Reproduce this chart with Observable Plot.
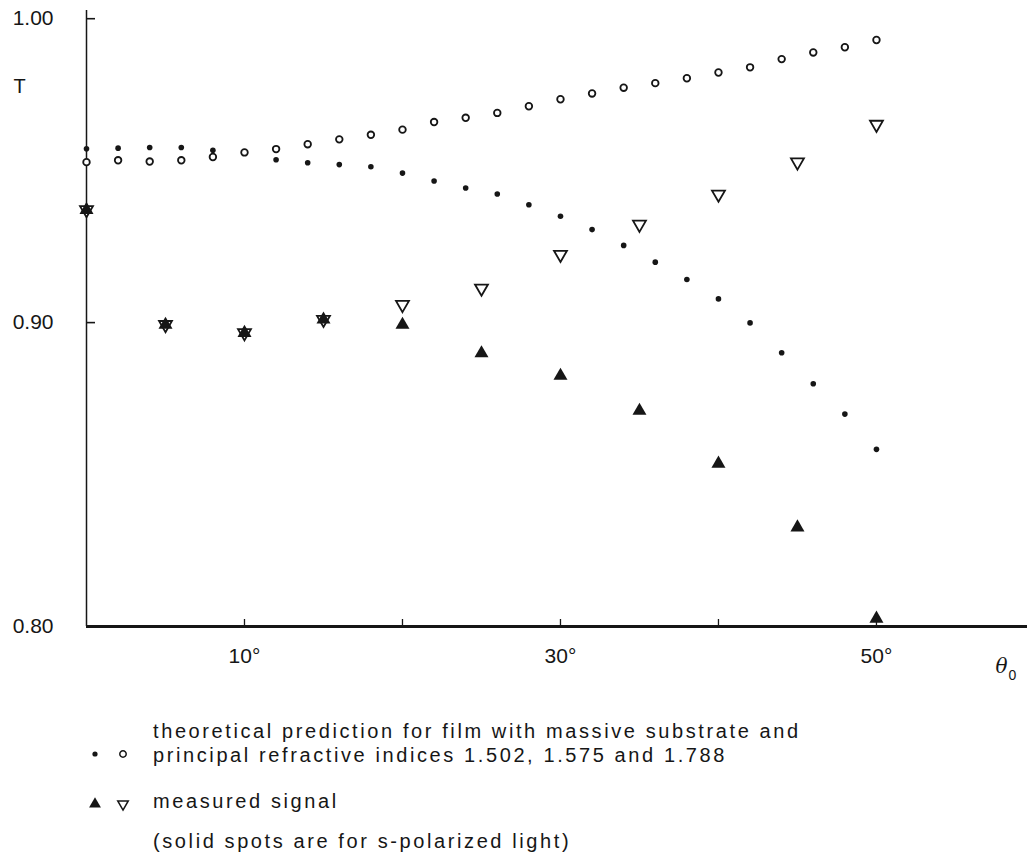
<!DOCTYPE html>
<html>
<head>
<meta charset="utf-8">
<script src="https://cdn.jsdelivr.net/npm/d3@7"></script>
<script src="https://cdn.jsdelivr.net/npm/@observablehq/plot@0.6"></script>
<style>
  html, body { margin: 0; padding: 0; background: #fff; }
  body { width: 1027px; height: 857px; overflow: hidden; font-family: "Liberation Sans", Arial, Helvetica, sans-serif; }
  #chart svg, #legend svg { display: block; }
</style>
</head>
<body>
<div id="chart"></div>
<div id="legend"></div>
<script>
// ---- data ----
const thetaTheory = [0,2,4,6,8,10,12,14,16,18,20,22,24,26,28,30,32,34,36,38,40,42,44,46,48,50];
// theoretical prediction, s-polarized (solid dots)
const theoryS = [0.9572,0.9574,0.9576,0.9576,0.9567,0.9561,0.9536,0.9526,0.9520,0.9513,0.9492,0.9466,0.9443,0.9423,0.9388,0.9350,0.9306,0.9254,0.9199,0.9142,0.9078,0.8999,0.8901,0.8799,0.8699,0.8583];
// theoretical prediction, p-polarized (open circles)
const theoryP = [0.9528,0.9534,0.9530,0.9534,0.9545,0.9560,0.9571,0.9587,0.9603,0.9618,0.9635,0.9660,0.9674,0.9690,0.9712,0.9735,0.9754,0.9773,0.9788,0.9804,0.9823,0.9840,0.9867,0.9889,0.9906,0.9930];
const thetaMeasured = [0,5,10,15,20,25,30,35,40,45,50];
// measured signal, s-polarized (solid triangles)
const measuredS = [0.9371,0.8993,0.8966,0.9010,0.8993,0.8899,0.8825,0.8710,0.8536,0.8326,0.8026];
// measured signal, p-polarized (open inverted triangles)
const measuredP = [0.9371,0.8993,0.8966,0.9010,0.9059,0.9113,0.9224,0.9323,0.9422,0.9528,0.9652];

const xTicks = [10,20,30,40,50];
const xTickLabels = [10,30,50];
const yTicks = [0.80,0.90,1.00];
const yInnerTicks = [0.90,1.00];

const legendLines = [
  "theoretical prediction for film with massive substrate and",
  "principal refractive indices 1.502, 1.575 and 1.788",
  "measured signal",
  "(solid spots are for s-polarized light)"
];

// ---- tables ----
const theory = thetaTheory.map((t, i) => ({theta: t, s: theoryS[i], p: theoryP[i]}));
const measured = thetaMeasured.map((t, i) => ({theta: t, s: measuredS[i], p: measuredP[i]}));

// inverted triangle symbol (same geometry as d3.symbolTriangle, flipped)
const sqrt3 = Math.sqrt(3);
const triangleDown = {
  draw(context, size) {
    const y = -Math.sqrt(size / (sqrt3 * 3));
    context.moveTo(0, -y * 2);
    context.lineTo(-sqrt3 * y, y);
    context.lineTo(sqrt3 * y, y);
    context.closePath();
  }
};

const ink = "#161616";
const font = "'Liberation Sans', Arial, Helvetica, sans-serif";

const chart = Plot.plot({
  width: 1027,
  height: 700,
  marginLeft: 86,
  marginRight: 0,
  marginTop: 10,
  marginBottom: 74,
  style: {fontFamily: font, color: ink, background: "#fff", overflow: "visible"},
  x: {domain: [0, 59.56], label: null},
  y: {domain: [0.80, 1.0027], label: null},
  marks: [
    // axis lines
    Plot.ruleX([0], {stroke: ink, strokeWidth: 1.5}),
    Plot.ruleY([0.80], {stroke: ink, strokeWidth: 2.8}),
    // inward ticks
    Plot.axisX({ticks: xTicks, tickSize: -7, tickFormat: () => "", stroke: ink, strokeWidth: 1.3, label: null}),
    Plot.axisY({ticks: yInnerTicks, tickSize: -9, tickFormat: () => "", stroke: ink, strokeWidth: 1.6, label: null}),
    // tick labels
    Plot.axisX({ticks: xTickLabels, tickSize: 0, tickPadding: 22, tickFormat: d => `${d}°`, fontSize: 21, fill: ink, label: null}),
    Plot.axisY({ticks: yTicks, tickSize: 0, tickPadding: 33, tickFormat: d3.format(".2f"), fontSize: 21, fill: ink, label: null}),
    // axis titles
    Plot.text(["T"], {frameAnchor: "top-left", dx: -73, dy: 68, textAnchor: "start", fontSize: 20, fill: ink}),
    Plot.text(["θ"], {frameAnchor: "bottom-right", dx: -26, dy: 46, textAnchor: "middle", fontSize: 20, fontStyle: "italic", fontFamily: "'DejaVu Serif', serif", fill: ink}),
    Plot.text(["0"], {frameAnchor: "bottom-right", dx: -15, dy: 53, textAnchor: "middle", fontSize: 14, fill: ink}),
    // theoretical predictions
    Plot.dot(theory, {x: "theta", y: "s", r: 2.8, fill: ink, stroke: "none"}),
    Plot.dot(theory, {x: "theta", y: "p", r: 3.3, stroke: ink, strokeWidth: 1.8, fill: "#fff"}),
    // measured signal
    Plot.dot(measured, {x: "theta", y: "p", symbol: triangleDown, r: 4.8, stroke: ink, strokeWidth: 1.8, fill: "#fff"}),
    Plot.dot(measured, {x: "theta", y: "s", symbol: "triangle", r: 5.2, fill: ink, stroke: "none"})
  ]
});
document.getElementById("chart").appendChild(chart);

// ---- legend below the plot ----
const lg = d3.select("#legend").append("svg")
  .attr("width", 1027).attr("height", 157)
  .style("font-family", font);

const legendSymbols = [
  {x: 95, y: 54, type: d3.symbolCircle, size: Math.PI * 2.6 * 2.6, fill: ink, stroke: "none"},
  {x: 123, y: 54, type: d3.symbolCircle, size: Math.PI * 3.2 * 3.2, fill: "#fff", stroke: ink},
  {x: 95, y: 104, type: d3.symbolTriangle, size: Math.PI * 4.4 * 4.4, fill: ink, stroke: "none"},
  {x: 123, y: 104, type: triangleDown, size: Math.PI * 3.9 * 3.9, fill: "#fff", stroke: ink}
];
lg.selectAll("path.sym").data(legendSymbols).join("path")
  .attr("class", "sym")
  .attr("transform", d => `translate(${d.x},${d.y})`)
  .attr("d", d => d3.symbol(d.type, d.size)())
  .attr("fill", d => d.fill)
  .attr("stroke", d => d.stroke)
  .attr("stroke-width", 1.5);

const baselines = [38, 62, 108, 148];
lg.selectAll("text.line").data(legendLines).join("text")
  .attr("class", "line")
  .attr("x", 153)
  .attr("y", (d, i) => baselines[i])
  .attr("font-size", 20)
  .attr("letter-spacing", "2.6px")
  .attr("fill", ink)
  .text(d => d);
</script>
</body>
</html>
